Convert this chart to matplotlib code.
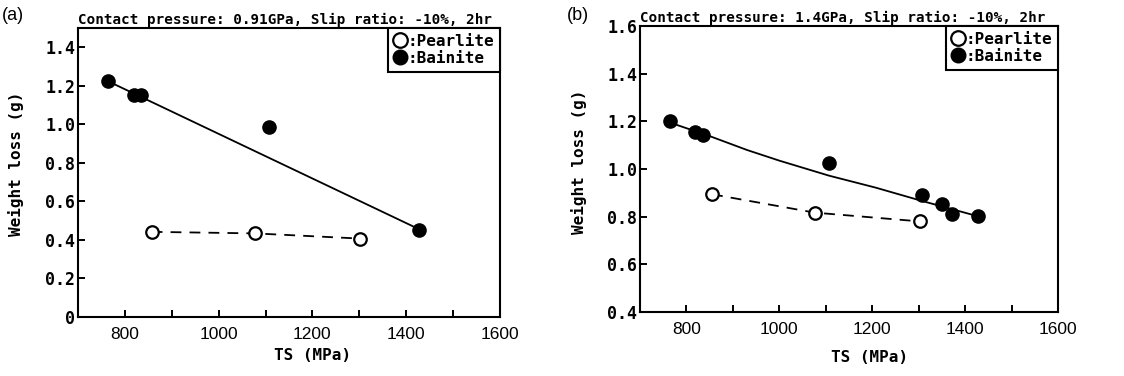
"""
Weight loss vs tensile strength, pearlite and bainite rails.
Two panels: 0.91 GPa and 1.4 GPa contact pressure.
"""

import matplotlib
matplotlib.use("Agg")
import matplotlib.pyplot as plt
from matplotlib.lines import Line2D

MONO = "DejaVu Sans Mono"
SANS = "Liberation Sans"

# --- panel (a): 0.91 GPa ---
a_bainite_ts = [763, 820, 835, 1107, 1428]
a_bainite_wl = [1.223, 1.152, 1.152, 0.984, 0.451]
a_fit_ts = [763, 1428]
a_fit_wl = [1.225, 0.455]
a_pearlite_ts = [857, 1077, 1302]
a_pearlite_wl = [0.442, 0.434, 0.407]

# --- panel (b): 1.4 GPa ---
b_bainite_ts = [764, 819, 835, 1107, 1308, 1350, 1371, 1427]
b_bainite_wl = [1.202, 1.156, 1.142, 1.026, 0.891, 0.853, 0.812, 0.803]
b_fit_ts = [764, 850, 930, 1000, 1107, 1207, 1307, 1427]
b_fit_wl = [1.195, 1.138, 1.080, 1.035, 0.972, 0.922, 0.866, 0.802]
b_pearlite_ts = [855, 1076, 1303]
b_pearlite_wl = [0.894, 0.817, 0.780]

x_ticks = [800, 1000, 1200, 1400, 1600]
x_minor = [900, 1100, 1300, 1500]
a_yticks = [0, 0.2, 0.4, 0.6, 0.8, 1.0, 1.2, 1.4]
a_ylabels = ["0", "0.2", "0.4", "0.6", "0.8", "1.0", "1.2", "1.4"]
b_yticks = [0.4, 0.6, 0.8, 1.0, 1.2, 1.4, 1.6]
b_ylabels = ["0.4", "0.6", "0.8", "1.0", "1.2", "1.4", "1.6"]

titles = ["Contact pressure: 0.91GPa, Slip ratio: -10%, 2hr",
          "Contact pressure: 1.4GPa, Slip ratio: -10%, 2hr"]


def draw_panel(ax, bain_x, bain_y, fit_x, fit_y, pear_x, pear_y,
               yticks, ylabels, ylim, title):
    ax.plot(fit_x, fit_y, color="black", lw=1.3, zorder=2)
    ax.plot(pear_x, pear_y, color="black", lw=1.3, ls=(0, (6, 4.5)), zorder=2)
    ax.plot(bain_x, bain_y, "o", color="black", ms=9.5, zorder=3)
    ax.plot(pear_x, pear_y, "o", mfc="white", mec="black", mew=1.6, ms=9, zorder=3)

    ax.set_xlim(700, 1600)
    ax.set_ylim(*ylim)
    ax.set_xticks(x_ticks)
    ax.set_xticks(x_minor, minor=True)
    ax.set_xticklabels([str(t) for t in x_ticks], fontfamily=SANS, fontsize=12.5)
    ax.set_yticks(yticks)
    ax.set_yticklabels(ylabels, fontfamily=MONO, fontsize=12, fontweight="bold")
    ax.tick_params(axis="x", which="both", direction="in", length=5, width=1.4, pad=7)
    ax.tick_params(axis="y", direction="in", length=5, width=1.4, pad=2)
    for sp in ax.spines.values():
        sp.set_linewidth(1.5)

    ax.set_xlabel("TS (MPa)", fontfamily=MONO, fontsize=11.5, fontweight="bold")
    ax.set_ylabel("Weight loss (g)", fontfamily=MONO, fontsize=11.5, fontweight="bold")
    ax.set_title(title, loc="left", fontfamily=MONO, fontsize=10.3,
                 fontweight="bold", pad=3)

    handles = [
        Line2D([], [], marker="o", ls="", mfc="white", mec="black", mew=1.6, ms=10.5),
        Line2D([], [], marker="o", ls="", color="black", ms=10.5),
    ]
    leg = ax.legend(handles, [":Pearlite", ":Bainite"], loc="upper right",
                    borderaxespad=0, handlelength=0.8, handletextpad=0.1,
                    labelspacing=0.15, borderpad=0.35, fancybox=False,
                    framealpha=1, edgecolor="black",
                    prop={"family": MONO, "size": 11.5, "weight": "bold"})
    leg.get_frame().set_linewidth(1.5)


fig = plt.figure(figsize=(11.24, 3.76), dpi=100)
ax_a = fig.add_axes([0.0694, 0.1569, 0.3754, 0.7686])
ax_b = fig.add_axes([0.5694, 0.1702, 0.3719, 0.7607])

draw_panel(ax_a, a_bainite_ts, a_bainite_wl, a_fit_ts, a_fit_wl,
           a_pearlite_ts, a_pearlite_wl, a_yticks, a_ylabels, (0, 1.5), titles[0])
draw_panel(ax_b, b_bainite_ts, b_bainite_wl, b_fit_ts, b_fit_wl,
           b_pearlite_ts, b_pearlite_wl, b_yticks, b_ylabels, (0.4, 1.6), titles[1])

ax_a.yaxis.set_label_coords(-0.128, 0.53)
ax_b.yaxis.set_label_coords(-0.127, 0.524)
ax_a.xaxis.set_label_coords(0.555, -0.107)
ax_b.xaxis.set_label_coords(0.55, -0.133)

fig.text(0.002, 1 - 15 / 376, "(a)", fontfamily=SANS, fontsize=13, va="center")
fig.text(567 / 1124, 1 - 15 / 376, "(b)", fontfamily=SANS, fontsize=13, va="center")

fig.savefig("out.png", dpi=100)
